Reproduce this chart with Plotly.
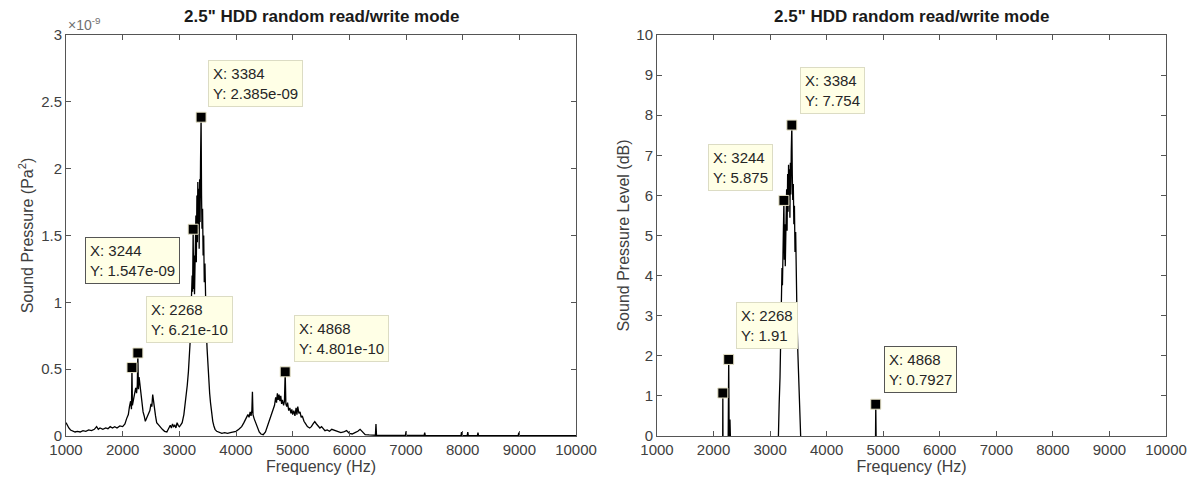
import math
import plotly.graph_objects as go

# ---------------- data ----------------
# Spectrum: frequency (Hz) and sound pressure (units of 1e-10 Pa^2)
freq_hz = [
    1000, 1020, 1050, 1080, 1120, 1160, 1200, 1250, 1300, 1350, 1400, 1450, 1500, 1540, 1570,
    1600, 1650, 1700, 1740, 1780, 1820, 1860, 1900, 1950, 2000, 2040, 2070, 2100, 2120, 2140,
    2155, 2164, 2172, 2190, 2210, 2230, 2245, 2258, 2268, 2278, 2290, 2305, 2320, 2340, 2360,
    2380, 2400, 2420, 2450, 2480, 2500, 2515, 2530, 2545, 2560, 2580, 2600, 2630, 2660, 2700,
    2740, 2780, 2810, 2840, 2860, 2880, 2900, 2920, 2940, 2960, 2980, 3000, 3020, 3050, 3080,
    3100, 3120, 3140, 3160, 3175, 3190, 3200, 3210, 3218, 3226, 3234, 3244, 3252, 3260, 3268,
    3276, 3284, 3292, 3300, 3310, 3318, 3326, 3334, 3342, 3350, 3358, 3366, 3374, 3384, 3392,
    3400, 3410, 3420, 3430, 3440, 3452, 3462, 3475, 3490, 3505, 3520, 3535, 3550, 3570, 3590,
    3610, 3630, 3660, 3700, 3750, 3800, 3850, 3900, 3950, 4000, 4050, 4100, 4140, 4180, 4210,
    4230, 4250, 4265, 4280, 4290, 4300, 4320, 4350, 4380, 4410, 4440, 4480, 4520, 4560, 4600,
    4640, 4680, 4700, 4715, 4730, 4745, 4760, 4775, 4790, 4805, 4820, 4840, 4855, 4868, 4880,
    4895, 4910, 4930, 4950, 4970, 4985, 5000, 5020, 5040, 5060, 5075, 5090, 5110, 5130, 5150,
    5170, 5200, 5230, 5260, 5300, 5330, 5360, 5390, 5420, 5450, 5480, 5510, 5540, 5570, 5610,
    5650, 5690, 5720, 5760, 5800, 5850, 5900, 5950, 6000, 6050, 6100, 6150, 6190, 6230, 6280,
    6350, 6420, 6460, 6470, 6480, 6550, 6700, 6850, 6990, 7000, 7010, 7200, 7320, 7330, 7340,
    7600, 7800, 7970, 7980, 7990, 8080, 8090, 8100, 8260, 8270, 8280, 8500, 8800, 8980, 8990,
    9000, 9300, 9600, 9800, 10000,
]
pressure_e10 = [
    1.0, 0.8, 0.6, 0.45, 0.35, 0.3, 0.35, 0.3, 0.4, 0.35, 0.45, 0.4, 0.5, 0.7, 0.5,
    0.6, 0.5, 0.6, 0.55, 0.7, 0.6, 0.7, 0.6, 0.75, 0.7, 0.9, 1.3, 1.6, 2.2, 2.6,
    2.0, 5.12, 2.3, 2.8, 3.0, 3.6, 3.2, 3.8, 6.21, 3.5, 4.4, 3.9, 3.1, 2.3, 1.8,
    1.5, 1.1, 1.3, 1.6, 1.9, 2.4, 2.2, 3.1, 2.5, 2.0, 1.5, 1.0, 0.8, 0.7, 0.5,
    0.35, 0.3, 0.5, 0.8, 0.6, 0.9, 0.7, 0.8, 0.6, 1.0, 0.8, 0.7, 0.8, 1.0, 1.6,
    2.2, 3.0, 3.8, 4.8, 5.6, 7.0, 8.5, 10.5, 9.5, 12.0, 10.8, 15.47, 11.0, 13.5, 10.6,
    14.0, 12.0, 16.5, 13.0, 18.0, 14.5, 19.0, 15.5, 18.5, 14.0, 19.2, 16.0, 20.5, 23.85, 18.0,
    15.5, 17.0, 13.5, 15.0, 11.5, 12.9, 9.5, 8.0, 6.5, 5.2, 4.2, 3.2, 2.5, 1.7, 1.1,
    0.75, 0.5, 0.35, 0.3, 0.2, 0.25, 0.2, 0.25, 0.3, 0.35, 0.5, 0.7, 1.0, 1.3, 1.6,
    1.4, 1.8, 1.5, 1.9, 3.3, 1.6, 1.3, 1.0, 0.6, 0.3, 0.15, 0.1, 0.3, 0.8, 1.3,
    1.8, 2.3, 2.9, 2.5, 3.2, 2.7, 3.1, 2.6, 3.0, 2.4, 2.7, 2.3, 2.6, 4.801, 2.4,
    2.2, 2.5, 1.9, 2.1, 1.7, 2.0, 1.6, 1.9, 1.5, 2.1, 1.6, 2.2, 1.7, 1.8, 1.4,
    1.5, 1.1, 0.9, 0.7, 0.6, 0.7, 0.9, 1.07, 0.9, 0.7, 0.6, 0.7, 0.5, 0.4, 0.45,
    0.35, 0.5, 0.45, 0.4, 0.3, 0.25, 0.3, 0.4, 0.2, 0.15, 0.25, 0.35, 0.5, 0.3, 0.1,
    0.08, 0.06, 0.06, 0.9, 0.06, 0.05, 0.05, 0.04, 0.04, 0.35, 0.04, 0.04, 0.04, 0.25, 0.04,
    0.03, 0.03, 0.03, 0.3, 0.03, 0.03, 0.3, 0.03, 0.03, 0.25, 0.03, 0.03, 0.03, 0.03, 0.25,
    0.03, 0.03, 0.02, 0.02, 0.02,
]
# SPL reference (Pa^2): (20 µPa)^2
P_REF = 4e-10

# Data tips
tip_freq = [2164, 2268, 3244, 3384, 4868]
tip_pressure_text = ["5.12e-10", "6.21e-10", "1.547e-09", "2.385e-09", "4.801e-10"]
tip_pressure_e10 = [5.12, 6.21, 15.47, 23.85, 4.801]
tip_spl = [1.072, 1.91, 5.875, 7.754, 0.7927]

x_ticks = [1000, 2000, 3000, 4000, 5000, 6000, 7000, 8000, 9000, 10000]
y1_ticks_e9 = [0, 0.5, 1, 1.5, 2, 2.5, 3]
y1_tick_labels = ["0", "0.5", "1", "1.5", "2", "2.5", "3"]
y2_ticks = [0, 1, 2, 3, 4, 5, 6, 7, 8, 9, 10]

title_text = '2.5" HDD random read/write mode'

# ---------------- derived ----------------
pressure = [v * 1e-10 for v in pressure_e10]
spl_db = [10 * math.log10(p / P_REF) for p in pressure]
tip_pressure = [v * 1e-10 for v in tip_pressure_e10]

FONT = "Liberation Sans, Arial, Helvetica, sans-serif"
TXT_COL = "#404040"
LINE_COL = "#555555"

fig = go.Figure()
fig.add_trace(go.Scatter(x=freq_hz, y=pressure, mode="lines",
                         line=dict(color="black", width=1.3), xaxis="x", yaxis="y",
                         showlegend=False, hoverinfo="skip"))
fig.add_trace(go.Scatter(x=tip_freq, y=tip_pressure, mode="markers",
                         marker=dict(symbol="square", size=10, color="black",
                                     line=dict(color="#e8e4c8", width=1)),
                         xaxis="x", yaxis="y", showlegend=False, cliponaxis=False))
fig.add_trace(go.Scatter(x=freq_hz, y=spl_db, mode="lines",
                         line=dict(color="black", width=1.3), xaxis="x2", yaxis="y2",
                         showlegend=False, hoverinfo="skip"))
fig.add_trace(go.Scatter(x=tip_freq, y=tip_spl, mode="markers",
                         marker=dict(symbol="square", size=10, color="black",
                                     line=dict(color="#e8e4c8", width=1)),
                         xaxis="x2", yaxis="y2", showlegend=False, cliponaxis=False))

PLOT_TOP, PLOT_BOTTOM = 35, 436
y_dom = [1 - PLOT_BOTTOM / 489, 1 - PLOT_TOP / 489]
x1_dom = [66 / 1200, 576 / 1200]
x2_dom = [657 / 1200, 1166 / 1200]

axis_common = dict(showline=True, linecolor=LINE_COL, linewidth=1, mirror="ticks",
                   ticks="inside", ticklen=5, tickcolor=LINE_COL, showgrid=False,
                   zeroline=False, automargin=False,
                   tickfont=dict(family=FONT, size=15, color=TXT_COL))
xtitle = dict(text="Frequency (Hz)", font=dict(family=FONT, size=16, color=TXT_COL), standoff=3)

fig.update_layout(
    width=1200, height=489,
    margin=dict(l=0, r=0, t=0, b=0, autoexpand=False),
    paper_bgcolor="white", plot_bgcolor="white",
    font=dict(family=FONT, color=TXT_COL),
    xaxis=dict(domain=x1_dom, anchor="y", range=[x_ticks[0], x_ticks[-1]], tickvals=x_ticks,
               ticktext=[str(v) for v in x_ticks], title=xtitle, **axis_common),
    yaxis=dict(domain=y_dom, anchor="x", range=[0, 3e-9],
               tickvals=[v * 1e-9 for v in y1_ticks_e9], ticktext=y1_tick_labels,
               title=dict(text="Sound Pressure (Pa<sup>2</sup>)", font=dict(family=FONT, size=16, color=TXT_COL), standoff=3),
               **axis_common),
    xaxis2=dict(domain=x2_dom, anchor="y2", range=[x_ticks[0], x_ticks[-1]], tickvals=x_ticks,
                ticktext=[str(v) for v in x_ticks], title=xtitle, **axis_common),
    yaxis2=dict(domain=y_dom, anchor="x2", range=[0, 10], tickvals=y2_ticks,
                ticktext=[str(v) for v in y2_ticks],
                title=dict(text="Sound Pressure Level (dB)", font=dict(family=FONT, size=16, color=TXT_COL), standoff=2),
                **axis_common),
)

annotations = []
for dom in (x1_dom, x2_dom):
    annotations.append(dict(text="<b>" + title_text + "</b>", xref="paper", yref="paper",
                            x=(dom[0] + dom[1]) / 2, y=y_dom[1], xanchor="center", yanchor="bottom",
                            yshift=7, showarrow=False, font=dict(family=FONT, size=17, color="#1a1a1a")))
annotations.append(dict(text="×10<sup>-9</sup>", xref="paper", yref="paper", x=x1_dom[0], y=y_dom[1],
                        xanchor="left", yanchor="bottom", yshift=0, showarrow=False,
                        font=dict(family=FONT, size=14, color="#707070")))

# data-tip box placement (top-left corner in data units) and border style
tip_box_left = [408, 2414, 1337, 3504, 5019]
tip_box_top_e9 = [0.457, 1.049, 1.49, 2.814, 0.902]
tip_box_dark_left = [False, False, True, False, False]
tip_box2_left = [798, 2402, 1897, 3528, 5011]
tip_box2_top = [2.5, 3.35, 7.29, 9.19, 2.25]
tip_box_dark_right = [False, False, False, False, True]

for i in range(len(tip_freq)):
    annotations.append(dict(
        text=f"X: {tip_freq[i]}<br>Y: {tip_pressure_text[i]}", xref="x", yref="y",
        x=tip_box_left[i], y=tip_box_top_e9[i] * 1e-9, xanchor="left", yanchor="top",
        showarrow=False, align="left", bgcolor="#ffffe6",
        bordercolor="#555555" if tip_box_dark_left[i] else "#dcdcc4", borderwidth=1, borderpad=4,
        font=dict(family=FONT, size=15, color="#262626")))
    annotations.append(dict(
        text=f"X: {tip_freq[i]}<br>Y: {tip_spl[i]:g}", xref="x2", yref="y2",
        x=tip_box2_left[i], y=tip_box2_top[i], xanchor="left", yanchor="top",
        showarrow=False, align="left", bgcolor="#ffffe6",
        bordercolor="#555555" if tip_box_dark_right[i] else "#dcdcc4", borderwidth=1, borderpad=4,
        font=dict(family=FONT, size=15, color="#262626")))

fig.update_layout(annotations=annotations)
# remove the default 8px page margin so the figure sits at the window's top-left corner
fig.write_html("out.html", config={"displayModeBar": False},
               post_script="document.body.style.margin='0';")
